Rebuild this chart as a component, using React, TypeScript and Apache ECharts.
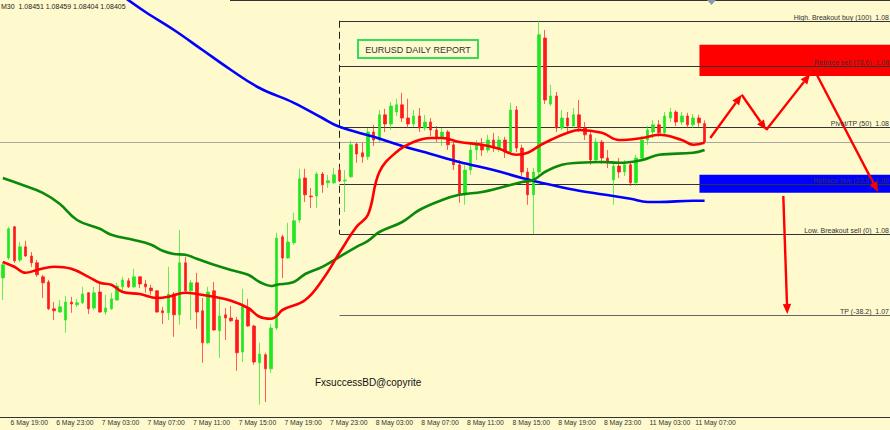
import { useEffect, useRef } from "react";
import * as echarts from "echarts";

// ---- data ----
const timeframe = "M30";
const lastQuote = { open: 1.08451, high: 1.08459, low: 1.08404, close: 1.08405 };

// tick labels, one every 8 bars starting at slot 1
const tickLabels = [
  "6 May 19:00", "6 May 23:00", "7 May 03:00", "7 May 07:00", "7 May 11:00", "7 May 15:00",
  "7 May 19:00", "7 May 23:00", "8 May 03:00", "8 May 07:00", "8 May 11:00", "8 May 15:00",
  "8 May 19:00", "8 May 23:00", "11 May 03:00", "11 May 07:00",
];

// candles: [open, close, low, high]
const candles: number[][] = [
  [1.08065, 1.08098, 1.0801, 1.08105],
  [1.08115, 1.08188, 1.0811, 1.08193],
  [1.08193, 1.08108, 1.08103, 1.08195],
  [1.0811, 1.08143, 1.08105, 1.08155],
  [1.08143, 1.0812, 1.08118, 1.08158],
  [1.0812, 1.08103, 1.08093, 1.0813],
  [1.08103, 1.08073, 1.08068, 1.0811],
  [1.08068, 1.08053, 1.08015, 1.08073],
  [1.08055, 1.07988, 1.07985, 1.0806],
  [1.07988, 1.07983, 1.0796, 1.08005],
  [1.0798, 1.07993, 1.07978, 1.0801],
  [1.0796, 1.08005, 1.07928, 1.0802],
  [1.08005, 1.08, 1.07978, 1.08018],
  [1.07998, 1.08003, 1.07993, 1.08013],
  [1.08003, 1.08025, 1.08, 1.08043],
  [1.08028, 1.07988, 1.07975, 1.0803],
  [1.0799, 1.08028, 1.07985, 1.08043],
  [1.0803, 1.0798, 1.07978, 1.08053],
  [1.0798, 1.0799, 1.07973, 1.08023],
  [1.07988, 1.08013, 1.07985, 1.08028],
  [1.0801, 1.08045, 1.08008, 1.08053],
  [1.08043, 1.0806, 1.0803, 1.08068],
  [1.08058, 1.08043, 1.0804, 1.08065],
  [1.08043, 1.08068, 1.0804, 1.08088],
  [1.08068, 1.0805, 1.0804, 1.0807],
  [1.0805, 1.08043, 1.08028, 1.0806],
  [1.0804, 1.08033, 1.08023, 1.08048],
  [1.08033, 1.0798, 1.07978, 1.08035],
  [1.07983, 1.07978, 1.0795, 1.07993],
  [1.07978, 1.08025, 1.0796, 1.08093],
  [1.08025, 1.07973, 1.07918, 1.0803],
  [1.07973, 1.08103, 1.07948, 1.08185],
  [1.08103, 1.08033, 1.0803, 1.08118],
  [1.08033, 1.08053, 1.0796, 1.0806],
  [1.08053, 1.0798, 1.07938, 1.08078],
  [1.07983, 1.07903, 1.07853, 1.08015],
  [1.07903, 1.0803, 1.079, 1.08043],
  [1.08033, 1.07935, 1.07933, 1.08055],
  [1.07933, 1.0797, 1.07865, 1.08013],
  [1.07973, 1.07965, 1.0791, 1.0799],
  [1.07965, 1.07958, 1.07955, 1.07995],
  [1.0796, 1.07878, 1.07833, 1.07968],
  [1.0788, 1.07993, 1.07855, 1.08038],
  [1.0799, 1.07945, 1.07943, 1.08013],
  [1.07945, 1.07855, 1.07848, 1.07948],
  [1.07853, 1.07875, 1.07748, 1.07903],
  [1.07873, 1.07838, 1.07755, 1.07878],
  [1.07838, 1.0794, 1.07828, 1.0795],
  [1.0794, 1.08165, 1.07935, 1.08178],
  [1.08168, 1.08115, 1.08065, 1.08173],
  [1.08115, 1.08155, 1.08113, 1.08203],
  [1.08153, 1.08208, 1.08148, 1.08228],
  [1.0821, 1.08313, 1.08203, 1.08338],
  [1.08315, 1.08273, 1.08255, 1.08338],
  [1.0827, 1.08268, 1.0824, 1.0829],
  [1.0827, 1.08325, 1.0824, 1.0833],
  [1.08325, 1.08298, 1.08278, 1.0833],
  [1.08303, 1.08308, 1.0829, 1.08323],
  [1.08303, 1.08323, 1.083, 1.0834],
  [1.08335, 1.08308, 1.08305, 1.08343],
  [1.08308, 1.0831, 1.0823, 1.08335],
  [1.08318, 1.08398, 1.08315, 1.08408],
  [1.084, 1.08375, 1.08353, 1.08403],
  [1.08378, 1.08368, 1.08353, 1.08403],
  [1.08368, 1.0843, 1.0836, 1.0844],
  [1.0843, 1.0841, 1.08395, 1.08448],
  [1.0841, 1.08473, 1.08405, 1.08485],
  [1.08473, 1.0845, 1.0843, 1.08488],
  [1.0845, 1.08495, 1.08435, 1.08505],
  [1.0848, 1.08498, 1.0847, 1.08513],
  [1.08498, 1.08465, 1.08455, 1.08528],
  [1.08465, 1.0845, 1.0844, 1.08513],
  [1.0845, 1.0847, 1.08443, 1.08485],
  [1.0847, 1.0844, 1.0843, 1.0849],
  [1.0844, 1.08455, 1.08433, 1.08473],
  [1.08455, 1.08435, 1.0842, 1.08465],
  [1.08435, 1.08415, 1.08405, 1.08445],
  [1.08415, 1.0843, 1.08395, 1.0844],
  [1.0843, 1.08398, 1.08385, 1.08435],
  [1.08398, 1.08348, 1.08335, 1.08405],
  [1.08348, 1.08273, 1.08253, 1.0836],
  [1.08273, 1.08335, 1.08248, 1.08348],
  [1.08335, 1.08385, 1.08323, 1.08398],
  [1.08385, 1.08398, 1.0836, 1.0841],
  [1.08398, 1.08385, 1.0837, 1.08415],
  [1.08385, 1.0841, 1.08378, 1.08423],
  [1.0841, 1.0839, 1.0838, 1.08428],
  [1.0839, 1.0841, 1.0838, 1.0842],
  [1.0841, 1.0838, 1.08365, 1.08418],
  [1.0838, 1.08485, 1.08373, 1.08503],
  [1.08485, 1.0839, 1.0838, 1.08495],
  [1.0839, 1.0833, 1.0832, 1.08398],
  [1.0833, 1.08273, 1.08248, 1.0834],
  [1.08273, 1.0833, 1.08175, 1.0834],
  [1.0833, 1.08673, 1.08323, 1.08708],
  [1.08665, 1.0851, 1.085, 1.08685],
  [1.085, 1.0852, 1.08495, 1.08548],
  [1.0852, 1.0844, 1.0843, 1.0853],
  [1.0844, 1.08465, 1.08435, 1.08485],
  [1.08465, 1.08445, 1.08428, 1.0848],
  [1.08445, 1.08473, 1.0844, 1.0849],
  [1.08473, 1.0844, 1.0843, 1.0851],
  [1.0844, 1.08423, 1.0841, 1.08455],
  [1.08423, 1.0836, 1.08348, 1.08435],
  [1.0836, 1.08405, 1.08353, 1.08415],
  [1.08405, 1.08365, 1.0835, 1.0841],
  [1.08365, 1.08355, 1.0834, 1.08385],
  [1.0831, 1.08345, 1.08248, 1.08355],
  [1.08345, 1.0833, 1.08315, 1.08365],
  [1.0833, 1.08348, 1.0832, 1.0836],
  [1.08348, 1.08303, 1.08295, 1.08355],
  [1.08303, 1.08365, 1.08295, 1.08373],
  [1.08365, 1.0841, 1.08355, 1.0842],
  [1.0841, 1.08435, 1.08398, 1.08445],
  [1.0843, 1.08448, 1.08415, 1.0846],
  [1.08448, 1.08428, 1.08418, 1.0846],
  [1.08428, 1.0847, 1.0842, 1.0848],
  [1.08465, 1.0848, 1.08455, 1.0849],
  [1.0848, 1.08455, 1.08445, 1.08485],
  [1.08455, 1.0847, 1.08448, 1.0848],
  [1.0847, 1.08448, 1.0844, 1.08478],
  [1.08448, 1.08465, 1.0844, 1.08475],
  [1.08465, 1.08453, 1.08443, 1.08473],
  [1.08451, 1.08405, 1.08404, 1.08459],
];

// moving averages read at sample bars: [slot, price]
const maRed: number[][] = [
  [0, 1.08105], [2, 1.08093], [4, 1.08078], [6, 1.08085], [9, 1.08093], [12, 1.08088],
  [15, 1.08068], [17, 1.08053], [19, 1.08048], [21, 1.0803], [24, 1.08025], [27, 1.08015],
  [29, 1.08018], [32, 1.08028], [34, 1.08025], [37, 1.08018], [40, 1.08008], [43, 1.0799],
  [45, 1.07968], [47, 1.07963], [48, 1.0797], [49, 1.07985], [53, 1.0801], [56, 1.0806],
  [59, 1.08128], [62, 1.08193], [64, 1.08223], [66, 1.0833], [69, 1.0838], [72, 1.08405],
  [75, 1.08415], [77, 1.08415], [80, 1.08405], [84, 1.08398], [87, 1.08388], [90, 1.08373],
  [92, 1.08378], [94, 1.08395], [96, 1.0841], [99, 1.08428], [101, 1.08435], [105, 1.08428],
  [108, 1.0841], [112, 1.08415], [115, 1.08423], [119, 1.0841], [121, 1.08398], [123, 1.08403],
];
const maGreen: number[][] = [
  [0, 1.08315], [3, 1.083], [7, 1.08278], [10, 1.0825], [13, 1.0821], [17, 1.08188],
  [19, 1.08173], [23, 1.0816], [26, 1.08148], [28, 1.08133], [30, 1.08125], [32, 1.08123],
  [34, 1.08113], [37, 1.08098], [40, 1.08085], [43, 1.08073], [45, 1.08055], [47, 1.08045],
  [48, 1.08048], [51, 1.08055], [53, 1.08075], [56, 1.08093], [59, 1.08118], [62, 1.08143],
  [64, 1.08158], [66, 1.0818], [70, 1.08205], [73, 1.08235], [77, 1.0826], [80, 1.08273],
  [84, 1.0828], [87, 1.0829], [91, 1.08305], [93, 1.0831], [95, 1.0833], [98, 1.08348],
  [101, 1.08353], [105, 1.08355], [108, 1.08353], [112, 1.0836], [115, 1.08373], [121, 1.08378],
  [123, 1.08385],
];
const maBlue: number[][] = [
  [21, 1.0877], [25, 1.0873], [30, 1.08685], [35, 1.08635], [40, 1.08585], [45, 1.0854],
  [51, 1.08503], [56, 1.08465], [59, 1.08443], [65, 1.08418], [70, 1.08395], [75, 1.08375],
  [80, 1.08355], [86, 1.08335], [91, 1.08315], [96, 1.08298], [101, 1.08283], [107, 1.0827],
  [110, 1.08263], [113, 1.08255], [115, 1.08255], [121, 1.08258], [123, 1.08258],
];

// Fibonacci drawing of 8 May
const fibHigh = 1.08708;
const fibLow = 1.08175;
const fibStartSlot = 59;
const fibNames = ["High. Breakout buy", "Retrace sell", "Pivot/TP", "Retrace buy", "Low. Breakout sell", "TP"];
const fibLevels = [100, 78.6, 50, 23.6, 0, -38.2];

// zones: [start slot, upper price, lower price]
const sellZone = [122.1, 1.08648, 1.0857];
const buyZone = [122.1, 1.08323, 1.08278];

// projected path arrows: [[slot, price], [slot, price]]
const pathArrows: number[][][] = [
  [[124.0, 1.08415], [129.5, 1.08523]],
  [[129.5, 1.08523], [133.8, 1.08435]],
  [[133.8, 1.08435], [141.5, 1.08575]],
  [[142.6, 1.08575], [153.4, 1.0828]],
  [[136.8, 1.0827], [137.5, 1.07975]],
];

const TOTAL_SLOTS = 156;
const reportTitle = "EURUSD DAILY REPORT";
const watermark = "FxsuccessBD@copyrite";

const BG = "#FFFACD";
const FONT = "Liberation Sans, Arial, sans-serif";

export default function App() {
  const ref = useRef<HTMLDivElement>(null);
  useEffect(() => {
    document.body.style.margin = "0";
    const chart = echarts.init(ref.current!, undefined, { renderer: "svg" });
    const cats = Array.from({ length: TOTAL_SLOTS }, (_, i) => String(i));
    const isTick = (i: number) => i >= 1 && (i - 1) % 8 === 0 && (i - 1) / 8 < tickLabels.length;

    chart.setOption({
      animation: false,
      backgroundColor: BG,
      grid: { left: -3, right: 0, top: 0, bottom: 13 },
      xAxis: {
        type: "category",
        data: cats,
        boundaryGap: true,
        axisLine: { lineStyle: { color: "#333", width: 1 } },
        axisTick: { alignWithLabel: true, interval: (i: number) => isTick(i), length: 3, lineStyle: { color: "#333" } },
        axisLabel: {
          interval: (i: number) => isTick(i),
          formatter: (_v: string, i: number) => (isTick(i) ? tickLabels[(i - 1) / 8] : ""),
          align: "left",
          margin: 2,
          padding: [0, 0, 0, 2],
          fontSize: 6.8,
          color: "#333",
          fontFamily: FONT,
        },
        splitLine: { show: false },
      },
      yAxis: {
        type: "value",
        min: 1.077175,
        max: 1.0876,
        show: false,
        splitLine: { show: false },
      },
      series: [
        {
          type: "candlestick",
          data: candles,
          barWidth: 3,
          itemStyle: {
            color: "#22e622",
            color0: "#ff1a1a",
            borderColor: "#22e622",
            borderColor0: "#ff1a1a",
            borderWidth: 0.7,
          },
          z: 3,
        },
        { type: "line", data: maBlue, smooth: 0.4, symbol: "none", lineStyle: { color: "#0000ff", width: 2.6 }, z: 4 },
        { type: "line", data: maGreen, smooth: 0.4, symbol: "none", lineStyle: { color: "#0a8a0a", width: 2.6 }, z: 4 },
        { type: "line", data: maRed, smooth: 0.4, symbol: "none", lineStyle: { color: "#ff0000", width: 2.6 }, z: 4 },
      ],
    });

    const xa = chart.convertToPixel({ xAxisIndex: 0 }, 0) as number;
    const xb = chart.convertToPixel({ xAxisIndex: 0 }, 100) as number;
    const xp = (k: number) => xa + ((xb - xa) * k) / 100;
    const yp = (p: number) => chart.convertToPixel({ yAxisIndex: 0 }, p) as number;
    const W = 890;

    const g: any[] = [];
    // zones
    [[sellZone, "#ff0000"], [buyZone, "#0000ff"]].forEach(([z, c]: any) => {
      const y1 = yp(z[1]);
      const y2 = yp(z[2]);
      g.push({ type: "rect", shape: { x: xp(z[0]), y: y1, width: W - xp(z[0]), height: y2 - y1 }, style: { fill: c }, z: 1 });
    });
    // bid line
    const by = Math.round(yp(lastQuote.close)) + 0.5;
    g.push({ type: "line", shape: { x1: 0, y1: by, x2: W, y2: by }, style: { stroke: "#a8a8a0", lineWidth: 1 }, z: 1 });
    // fib levels: the level text is shown as far as the window edge lets it (price truncated to 2 decimals)
    const fx = Math.round(xp(fibStartSlot)) + 0.5;
    fibLevels.forEach((lvl, i) => {
      const price = fibLow + ((fibHigh - fibLow) * lvl) / 100;
      const y = Math.round(yp(price)) + 0.5;
      const shown = (Math.floor(price * 100) / 100).toFixed(2);
      g.push({ type: "line", shape: { x1: fx, y1: y, x2: W, y2: y }, style: { stroke: lvl < 0 ? "#666" : "#333", lineWidth: 1 }, z: 2 });
      g.push({
        type: "text",
        x: 889,
        y: y - 1,
        style: { text: `${fibNames[i]} (${lvl})  ${shown}`, align: "right", verticalAlign: "bottom", fontSize: 7, fontFamily: FONT, fill: "#333" },
        z: 30,
      });
    });
    g.push({ type: "line", shape: { x1: fx, y1: yp(fibHigh), x2: fx, y2: yp(fibLow) }, style: { stroke: "#222", lineWidth: 1, lineDash: [7, 4] }, z: 2 });

    // arrows
    const arrow = (x1: number, y1: number, x2: number, y2: number) => {
      const dx = x2 - x1;
      const dy = y2 - y1;
      const len = Math.hypot(dx, dy);
      const ux = dx / len;
      const uy = dy / len;
      const hl = 10;
      const hw = 4.2;
      const bx = x2 - ux * hl;
      const byy = y2 - uy * hl;
      g.push({ type: "line", shape: { x1, y1, x2: bx, y2: byy }, style: { stroke: "#ff0000", lineWidth: 2.4 }, z: 20 });
      g.push({ type: "polygon", shape: { points: [[x2, y2], [bx - uy * hw, byy + ux * hw], [bx + uy * hw, byy - ux * hw]] }, style: { fill: "#ff0000" }, z: 20 });
    };
    pathArrows.forEach(([a, b]) => arrow(xp(a[0]), yp(a[1]), xp(b[0]), yp(b[1])));

    // header, title box, watermark, frame
    g.push({ type: "line", shape: { x1: 230, y1: 0.5, x2: W, y2: 0.5 }, style: { stroke: "#333", lineWidth: 1 }, z: 30 });
    g.push({ type: "polygon", shape: { points: [[707, 0], [716, 0], [711.5, 5]] }, style: { fill: "#8a9aaa" }, z: 30 });
    g.push({
      type: "text",
      x: 1,
      y: 6,
      style: {
        text: `${timeframe}  ${lastQuote.open.toFixed(5)} ${lastQuote.high.toFixed(5)} ${lastQuote.low.toFixed(5)} ${lastQuote.close.toFixed(5)}`,
        verticalAlign: "middle",
        fontSize: 7,
        fontFamily: FONT,
        fill: "#222",
      },
      z: 30,
    });
    g.push({ type: "rect", shape: { x: 358, y: 40, width: 120, height: 18 }, style: { fill: BG, stroke: "#33dd55", lineWidth: 2 }, z: 30 });
    g.push({ type: "text", x: 418, y: 49.5, style: { text: reportTitle, align: "center", verticalAlign: "middle", fontSize: 9, fontFamily: FONT, fill: "#333" }, z: 31 });
    g.push({ type: "text", x: 315, y: 382, style: { text: watermark, verticalAlign: "middle", fontSize: 10, fontFamily: FONT, fill: "#111" }, z: 30 });

    chart.setOption({ graphic: g });
    return () => chart.dispose();
  }, []);
  return <div ref={ref} style={{ position: "fixed", left: 0, top: 0, width: 890, height: 430 }} />;
}
